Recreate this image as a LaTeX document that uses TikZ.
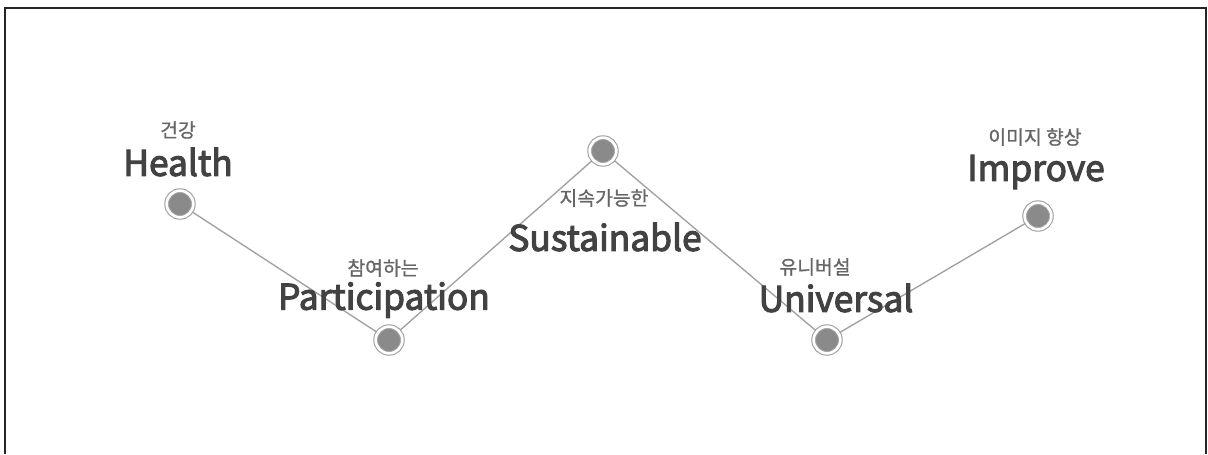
\documentclass[tikz,border=0pt]{standalone}
\usepackage{fontspec}
\setmainfont{Noto Sans CJK KR}
\newfontfamily\wordfont{Noto Sans CJK KR}[FakeBold=3]
\newfontfamily\korfont{Noto Sans CJK KR}[FakeBold=1]
\usepackage{xcolor}
\usetikzlibrary{calc}
\definecolor{dotgray}{HTML}{8A8A8A}
\definecolor{linegray}{HTML}{A0A0A0}
\definecolor{textgray}{HTML}{424242}
\definecolor{subgray}{HTML}{666666}
\tikzset{dot/.style={circle, fill=dotgray, minimum size=20pt, inner sep=0pt,
  draw=linegray, line width=0.8pt, double=white, double distance=2pt},
  word/.style={font=\wordfont\fontsize{26.5}{26}\selectfont, text=textgray, inner sep=0pt},
  kor/.style={font=\korfont\fontsize{14.5}{15}\selectfont, text=subgray, inner sep=0pt}}

\begin{document}
\begin{tikzpicture}[x=0.75pt, y=-0.75pt]
\useasboundingbox (0,0) rectangle (1208,454);
\draw[line width=1.5pt, black!85] (5,454) -- (5,8) -- (1206,8) -- (1206,454);
\coordinate (health) at (180,204);
\coordinate (part) at (389,340);
\coordinate (sust) at (603,151);
\coordinate (univ) at (827,340);
\coordinate (impr) at (1038,216);
\draw[linegray, line width=1pt] (health) -- (part) -- (sust) -- (univ) -- (impr);
\foreach \p in {health, part, sust, univ, impr}
  \node[dot] (\p-dot) at (\p) {};
\node[word] (health-en) at (178,162) {Health};
\node[kor] (health-ko) at (178,130) {건강};
\node[word] (part-en) at (384,300) {Participation};
\node[kor] (part-ko) at (383,268) {참여하는};
\node[word] (sust-en) at (605,237) {Sustainable};
\node[kor] (sust-ko) at (604,198) {지속가능한};
\node[word] (univ-en) at (836,298) {Universal};
\node[kor] (univ-ko) at (815,267) {유니버설};
\node[word] (impr-en) at (1036,172) {Improve};
\node[kor] (impr-ko) at (1035,137) {이미지 향상};
\end{tikzpicture}
\end{document}
